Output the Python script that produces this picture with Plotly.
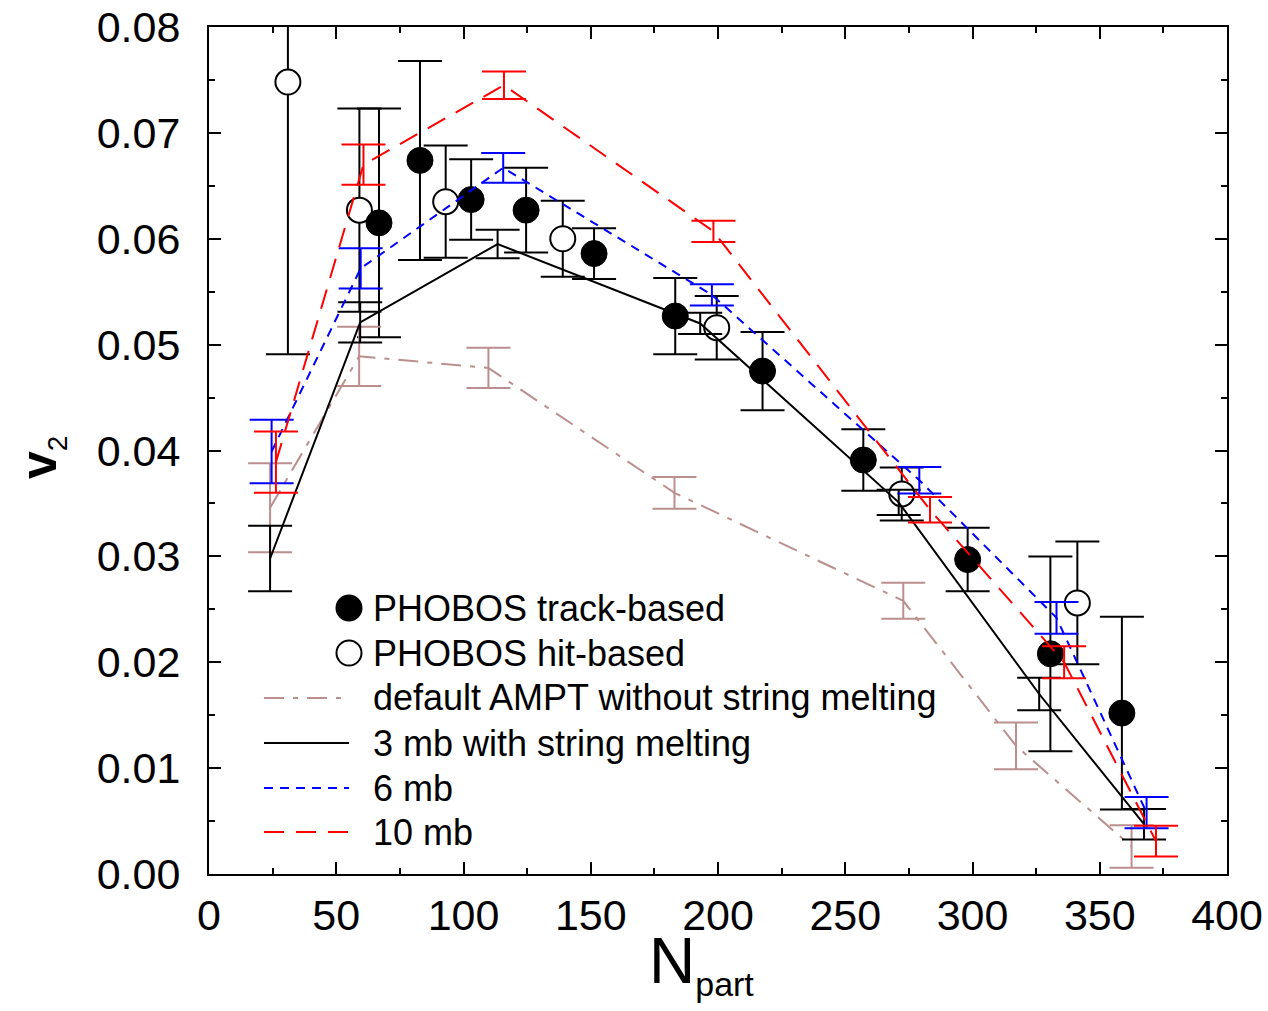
import plotly.graph_objects as go

# ---- PHOBOS measurements -------------------------------------------------
track_npart = [66.8, 82.9, 103.0, 124.6, 151.3, 183.2, 217.5, 257.1, 298.1, 330.6, 358.7]
track_v2 = [0.0615, 0.0674, 0.0637, 0.0627, 0.0586, 0.0527, 0.0475, 0.0391, 0.0297, 0.0208, 0.0152]
track_err = [0.0108, 0.0094, 0.0038, 0.0040, 0.0024, 0.0036, 0.0037, 0.0029, 0.0030, 0.0092, 0.0091]

hit_npart = [31.0, 59.1, 93.0, 139.0, 199.5, 272.2, 341.2]
hit_v2 = [0.0748, 0.0627, 0.0635, 0.0600, 0.0516, 0.0359, 0.0256]
hit_err = [0.0257, 0.0096, 0.0053, 0.0036, 0.0030, 0.0025, 0.0058]

# ---- AMPT calculations ---------------------------------------------------
default_npart = [24.0, 59.0, 109.8, 182.9, 272.8, 317.1, 362.5]
default_v2 = [0.0346, 0.0489, 0.0478, 0.0360, 0.0258, 0.0121, 0.0026]
default_err = [0.0042, 0.0028, 0.0019, 0.0015, 0.0017, 0.0022, 0.0020]

mb3_npart = [24.0, 59.4, 113.4, 193.0, 271.0, 326.2, 367.4]
mb3_v2 = [0.0298, 0.0521, 0.0595, 0.0520, 0.0351, 0.0170, 0.0047]
mb3_err = [0.0031, 0.0019, 0.00135, 0.0010, 0.0012, 0.00154, 0.00145]

mb6_npart = [24.6, 59.6, 115.6, 197.6, 279.1, 333.0, 368.4]
mb6_v2 = [0.0399, 0.0572, 0.0667, 0.0547, 0.0372, 0.0242, 0.0058]
mb6_err = [0.0030, 0.0019, 0.0014, 0.0010, 0.00125, 0.0015, 0.00147]

mb10_npart = [26.3, 60.7, 115.9, 198.2, 283.3, 336.0, 372.1]
mb10_v2 = [0.0389, 0.0670, 0.0745, 0.0607, 0.0344, 0.0200, 0.0031]
mb10_err = [0.0029, 0.0019, 0.0013, 0.0010, 0.0012, 0.0015, 0.00145]

legend_labels = [
    "PHOBOS track-based",
    "PHOBOS hit-based",
    "default AMPT without string melting",
    "3 mb with string melting",
    "6 mb",
    "10 mb",
]

FONT = "Arial, Liberation Sans, Helvetica, sans-serif"
BROWN = "#bc8f8f"

W, H = 1268, 1011
L, R, T, B = 209, 41, 27, 137
PW, PH = W - L - R, H - T - B


def px(xp):
    return (xp - L) / PW


def py(yp):
    return (H - B - yp) / PH


fig = go.Figure()


def err(vals, color):
    return dict(type="data", array=vals, visible=True, color=color,
                thickness=2, width=22)


fig.add_trace(go.Scatter(
    x=hit_npart, y=hit_v2, mode="markers", error_y=err(hit_err, "black"),
    marker=dict(symbol="circle", size=25, color="white",
                line=dict(color="black", width=2)),
    showlegend=False))
fig.add_trace(go.Scatter(
    x=track_npart, y=track_v2, mode="markers", error_y=err(track_err, "black"),
    marker=dict(symbol="circle", size=26, color="black",
                line=dict(color="black", width=1)),
    showlegend=False))

models = [
    (default_npart, default_v2, default_err, BROWN, "20px,9px,5px,9px"),
    (mb3_npart, mb3_v2, mb3_err, "black", "solid"),
    (mb6_npart, mb6_v2, mb6_err, "#0000ff", "9px,7px"),
    (mb10_npart, mb10_v2, mb10_err, "#ff0000", "20px,12px"),
]
for xs, ys, es, col, dash in models:
    fig.add_trace(go.Scatter(
        x=xs, y=ys, mode="lines", error_y=err(es, col),
        line=dict(color=col, width=2, dash=dash),
        showlegend=False))

# ---- legend block --------------------------------------------------------
shapes = []
annotations = []
row_y = [608, 653, 698, 743, 788, 832]
text_x = 371
for i, lab in enumerate(legend_labels):
    annotations.append(dict(
        x=px(text_x), y=py(row_y[i]), xref="paper", yref="paper",
        text=lab, showarrow=False, xanchor="left", yanchor="middle",
        font=dict(family=FONT, size=36, color="black")))

# marker samples
for i, fill in [(0, "black"), (1, "white")]:
    cx, cy, r = 349, row_y[i], 12.5
    shapes.append(dict(type="circle", xref="paper", yref="paper",
                       x0=px(cx - r), x1=px(cx + r), y0=py(cy + r), y1=py(cy - r),
                       fillcolor=fill, line=dict(color="black", width=2)))

# line samples
for j, (_, _, _, col, dash) in enumerate(models):
    yy = py(row_y[j + 2])
    shapes.append(dict(type="line", xref="paper", yref="paper",
                       x0=px(264), x1=px(349), y0=yy, y1=yy,
                       line=dict(color=col, width=2, dash=dash)))

# axis titles
annotations.append(dict(
    x=px(701), y=py(964), xref="paper", yref="paper", showarrow=False,
    text="N<sub><span style='font-size:34px'>part</span></sub>",
    xanchor="center", yanchor="middle",
    font=dict(family=FONT, size=64, color="black")))
annotations.append(dict(
    x=px(42), y=py(458), xref="paper", yref="paper", showarrow=False,
    text="<b>v</b><sub><span style='font-size:28px'>2</span></sub>",
    textangle=-90, xanchor="center", yanchor="middle",
    font=dict(family=FONT, size=50, color="black")))

axis_common = dict(
    showline=True, linecolor="black", linewidth=2, mirror="ticks",
    ticks="inside", ticklen=12, tickwidth=2, tickcolor="black",
    showgrid=False, zeroline=False, automargin=False,
    tickfont=dict(family=FONT, size=43, color="black"),
)

fig.update_xaxes(range=[0, 400], tick0=0, dtick=50, ticklabelstandoff=2,
                 minor=dict(dtick=25, ticks="inside", ticklen=6, tickwidth=2,
                            tickcolor="black", showgrid=False),
                 **axis_common)
fig.update_yaxes(range=[0, 0.08], tick0=0, dtick=0.01, tickformat=".2f",
                 ticklabelstandoff=18,
                 minor=dict(dtick=0.005, ticks="inside", ticklen=6, tickwidth=2,
                            tickcolor="black", showgrid=False),
                 **axis_common)

fig.update_layout(
    width=W, height=H, template="none",
    margin=dict(l=L, r=R, t=T, b=B, pad=0, autoexpand=False),
    paper_bgcolor="white", plot_bgcolor="white",
    shapes=shapes, annotations=annotations,
    font=dict(family=FONT, color="black"),
)

fig.write_html("out.html")
